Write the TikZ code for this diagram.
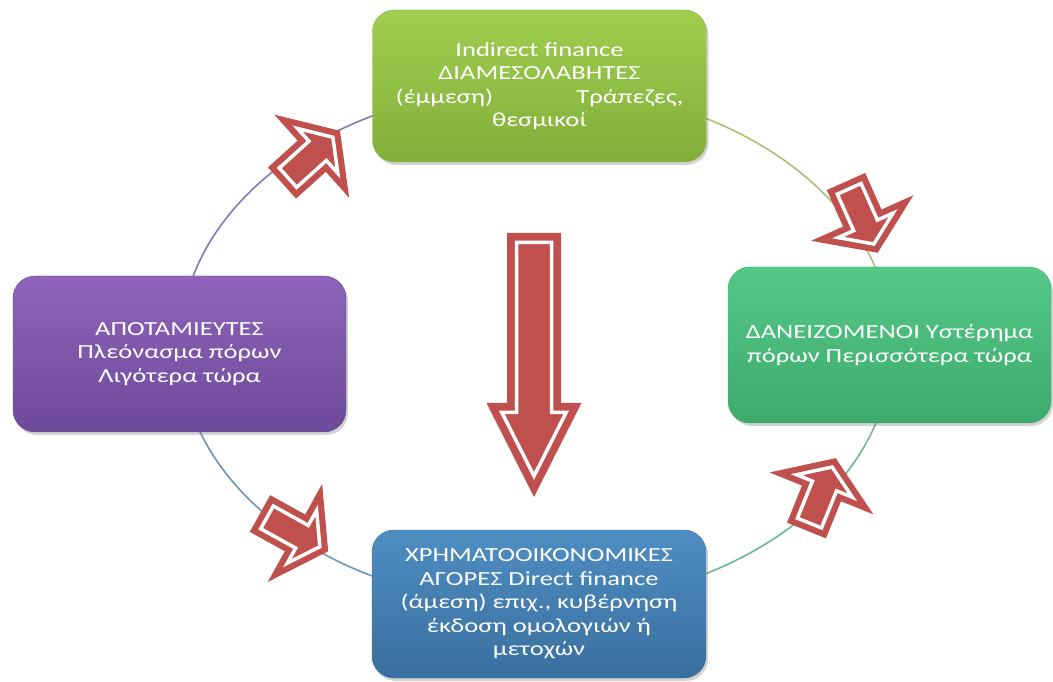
\documentclass[tikz,border=0pt]{standalone}
\usepackage{fontspec}
\setmainfont{Carlito}[FakeStretch=1.33]
\usetikzlibrary{shadows}
\definecolor{flime}{HTML}{A0CE50}
\definecolor{flimedk}{HTML}{82AE3A}
\definecolor{fgreen}{HTML}{55C987}
\definecolor{fgreendk}{HTML}{3DAA6B}
\definecolor{fblue}{HTML}{4F8DC2}
\definecolor{fbluedk}{HTML}{396F9E}
\definecolor{fpurple}{HTML}{8D64BA}
\definecolor{fpurpledk}{HTML}{6E4A9A}
\definecolor{farrow}{HTML}{C0504D}
\definecolor{arcpurple}{HTML}{8278B2}
\definecolor{arcolive}{HTML}{A8C176}
\definecolor{arcgreen}{HTML}{6CB98C}
\definecolor{arcblue}{HTML}{6C96B8}
\tikzset{
  stage/.style = {rounded corners=22pt, inner sep=0pt, align=center,
                  text=white, font=\fontsize{20}{23.5}\selectfont,
                  drop shadow={opacity=0.35, shadow xshift=2pt, shadow yshift=-3pt}},
  ring/.style  = {line width=1.6pt},
  pics/fatarrow/.style n args={5}{code={
    \pgfmathsetmacro\aL{#1}\pgfmathsetmacro\aS{#2}
    \pgfmathsetmacro\aH{#3}\pgfmathsetmacro\aW{#4}\pgfmathsetmacro\aD{#5}
    \pgfmathsetmacro\aK{\aD*sqrt(1/\aH^2+1/\aW^2)}
    \pgfmathsetmacro\aT{\aL+\aH*(1-\aK)}
    \pgfmathsetmacro\aB{\aW*(1-\aK-\aD/\aH)}
    \fill[farrow] (0,-\aS) -- (\aL,-\aS) -- (\aL,-\aW) -- (\aL+\aH,0)
      -- (\aL,\aW) -- (\aL,\aS) -- (0,\aS) -- cycle;
    \draw[white, line width=3.5pt] (\aD,-\aS+\aD) -- (\aL+\aD,-\aS+\aD)
      -- (\aL+\aD,-\aB) -- (\aT,0) -- (\aL+\aD,\aB) -- (\aL+\aD,\aS-\aD)
      -- (\aD,\aS-\aD) -- cycle;
  }},
}

\begin{document}
\begin{tikzpicture}[x=1pt, y=1pt]
\useasboundingbox (0,0) rectangle (1053,681);
% ---- the ring behind the boxes ----
\foreach \a/\c in {90/arcpurple, 0/arcolive, -90/arcgreen, 180/arcblue}
  \draw[ring,\c] ([shift={(536,335)}]\a:356 and 259)
    arc[start angle=\a, delta angle=90, x radius=356, y radius=259];
% ---- the four stages ----
\node[stage, top color=flime, bottom color=flimedk, draw=flimedk,
      minimum width=334pt, minimum height=152pt] (mid) at (539.5,595)
  {Indirect finance\\ΔΙΑΜΕΣΟΛΑΒΗΤΕΣ\\\makebox[288pt]{(έμμεση)\hfill Τράπεζες,}\\θεσμικοί};
\node[stage, top color=fgreen, bottom color=fgreendk, draw=fgreendk,
      minimum width=323pt, minimum height=156pt] (borrow) at (889.5,336)
  {ΔΑΝΕΙΖΟΜΕΝΟΙ Υστέρημα\\πόρων Περισσότερα τώρα};
\node[stage, top color=fblue, bottom color=fbluedk, draw=fbluedk,
      minimum width=334pt, minimum height=148pt] (market) at (539,77)
  {ΧΡΗΜΑΤΟΟΙΚΟΝΟΜΙΚΕΣ\\ΑΓΟΡΕΣ Direct finance\\(άμεση) επιχ., κυβέρνηση\\έκδοση ομολογιών ή\\μετοχών};
\node[stage, top color=fpurple, bottom color=fpurpledk, draw=fpurpledk,
      minimum width=333pt, minimum height=156pt] (saver) at (179.5,327)
  {ΑΠΟΤΑΜΙΕΥΤΕΣ\\Πλεόνασμα πόρων\\Λιγότερα τώρα};
% ---- flow arrows ----
\pic[rotate=42]  at (282,498)   {fatarrow={40}{21}{38}{56}{8}};
\pic[rotate=-66] at (846,499.5) {fatarrow={40}{21}{38}{56}{8}};
\pic[rotate=68]  at (806.5,150.5) {fatarrow={40}{21}{38}{56}{8}};
\pic[rotate=-29] at (260,167.5) {fatarrow={40}{21}{38}{56}{8}};
\pic[rotate=-90] at (534,448)   {fatarrow={170}{27}{94}{47.5}{9.5}};
\end{tikzpicture}
\end{document}
